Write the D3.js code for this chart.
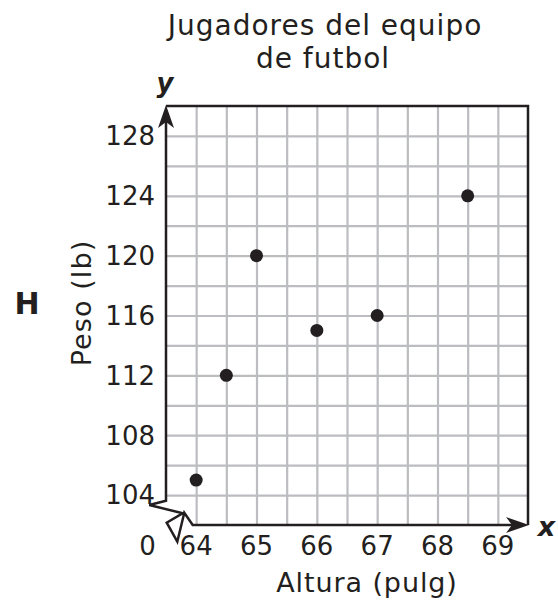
<!DOCTYPE html>
<html><head><meta charset="utf-8">
<script src="https://cdn.jsdelivr.net/npm/d3@7"></script>
<style>
html,body{margin:0;padding:0;background:#fff;}
text{font-family:"DejaVu Sans",Verdana,sans-serif;fill:#231f20;}
</style></head>
<body>
<svg id="c" width="558" height="602"></svg>
<script>
const heights = [64, 64.5, 65, 66, 67, 68.5];
const weights = [105, 112, 120, 115, 116, 124];
const xTicks = [64, 65, 66, 67, 68, 69];
const yTicks = [104, 108, 112, 116, 120, 124, 128];
const titleLines = ["Jugadores del equipo", "de futbol"];
const xTitle = "Altura (pulg)";
const yTitle = "Peso (lb)";
const panelLabel = "H";

const svg = d3.select("#c");
const x = d3.scaleLinear().domain([63.5, 69.5]).range([166, 528]);
const y = d3.scaleLinear().domain([102, 130]).range([525, 106]);
const ink = "#231f20", grid = "#bcbdc0";

// gridlines
const xGrid = d3.range(64, 69.01, 0.5);
const yGrid = d3.range(104, 128.01, 2);
svg.append("g").attr("transform", `translate(0,${y(102)})`)
  .call(d3.axisBottom(x).tickValues(xGrid).tickSize(-(y(102) - y(130))).tickFormat(""))
  .call(g => g.select(".domain").remove())
  .call(g => g.selectAll("line").attr("stroke", grid).attr("stroke-width", 2.2));
svg.append("g").attr("transform", `translate(${x(63.5)},0)`)
  .call(d3.axisLeft(y).tickValues(yGrid).tickSize(-(x(69.5) - x(63.5))).tickFormat(""))
  .call(g => g.select(".domain").remove())
  .call(g => g.selectAll("line").attr("stroke", grid).attr("stroke-width", 2.2));

// frame: top and right borders
const x0 = x(63.5), y0 = y(102), x1 = x(69.5), y1 = y(130);
svg.append("path").attr("d", `M${x0},${y1}H${x1}V${y0}`)
  .attr("fill", "none").attr("stroke", ink).attr("stroke-width", 2.5);

// axes with break
const brk = [[0,-24.3],[-16.7,-20],[16.7,-11.7],[0.7,-2.3],[11.3,16.7],[18.3,-12.3],[26.7,0]];
let d = `M${x0},${y1 + 12}`;
brk.forEach(p => { d += `L${x0 + p[0]},${y0 + p[1]}`; });
d += `H${x1 - 12}`;
svg.append("path").attr("d", d).attr("fill", "none").attr("stroke", ink)
  .attr("stroke-width", 2.5).attr("stroke-linejoin", "miter");

// arrowheads
svg.append("path").attr("fill", ink)
  .attr("d", `M${x0},${y1 - 1}L${x0 - 8},${y1 + 22}L${x0},${y1 + 16}L${x0 + 8},${y1 + 22}Z`);
svg.append("path").attr("fill", ink)
  .attr("d", `M${x1 + 1},${y0}L${x1 - 22},${y0 - 8}L${x1 - 16},${y0}L${x1 - 22},${y0 + 8}Z`);

// tick labels
svg.append("g").selectAll("text").data(xTicks).join("text")
  .attr("x", v => x(v)).attr("y", 555).attr("text-anchor", "middle")
  .attr("font-size", 26).text(v => v);
svg.append("text").attr("x", 147.5).attr("y", 555).attr("text-anchor", "middle")
  .attr("font-size", 26).text("0");
svg.append("g").selectAll("text").data(yTicks).join("text")
  .attr("x", 155).attr("y", v => y(v)).attr("dy", "0.36em").attr("text-anchor", "end")
  .attr("font-size", 26).text(v => v);

// points
svg.append("g").selectAll("circle").data(heights).join("circle")
  .attr("cx", (h) => x(h)).attr("cy", (h, i) => y(weights[i])).attr("r", 6.5).attr("fill", ink);

// titles
svg.append("text").attr("x", 325).attr("y", 35).attr("text-anchor", "middle")
  .attr("font-size", 28).attr("letter-spacing", 1).text(titleLines[0]);
svg.append("text").attr("x", 323).attr("y", 68).attr("text-anchor", "middle")
  .attr("font-size", 28).attr("letter-spacing", 1).text(titleLines[1]);
svg.append("text").attr("x", 367).attr("y", 592).attr("text-anchor", "middle")
  .attr("font-size", 27).attr("letter-spacing", 0.9).text(xTitle);
svg.append("text").attr("transform", "translate(91,303) rotate(-90)").attr("text-anchor", "middle")
  .attr("font-size", 27).attr("letter-spacing", 1.1).text(yTitle);
svg.append("text").attr("x", 27).attr("y", 314).attr("text-anchor", "middle")
  .attr("font-size", 30).attr("font-weight", "bold").text(panelLabel);
svg.append("text").attr("x", 165).attr("y", 92).attr("text-anchor", "middle")
  .attr("font-size", 26).attr("font-weight", "bold").attr("font-style", "italic").text("y");
svg.append("text").attr("x", 546.5).attr("y", 536).attr("text-anchor", "middle")
  .attr("font-size", 27).attr("font-weight", "bold").attr("font-style", "italic").text("x");
</script>
</body></html>
